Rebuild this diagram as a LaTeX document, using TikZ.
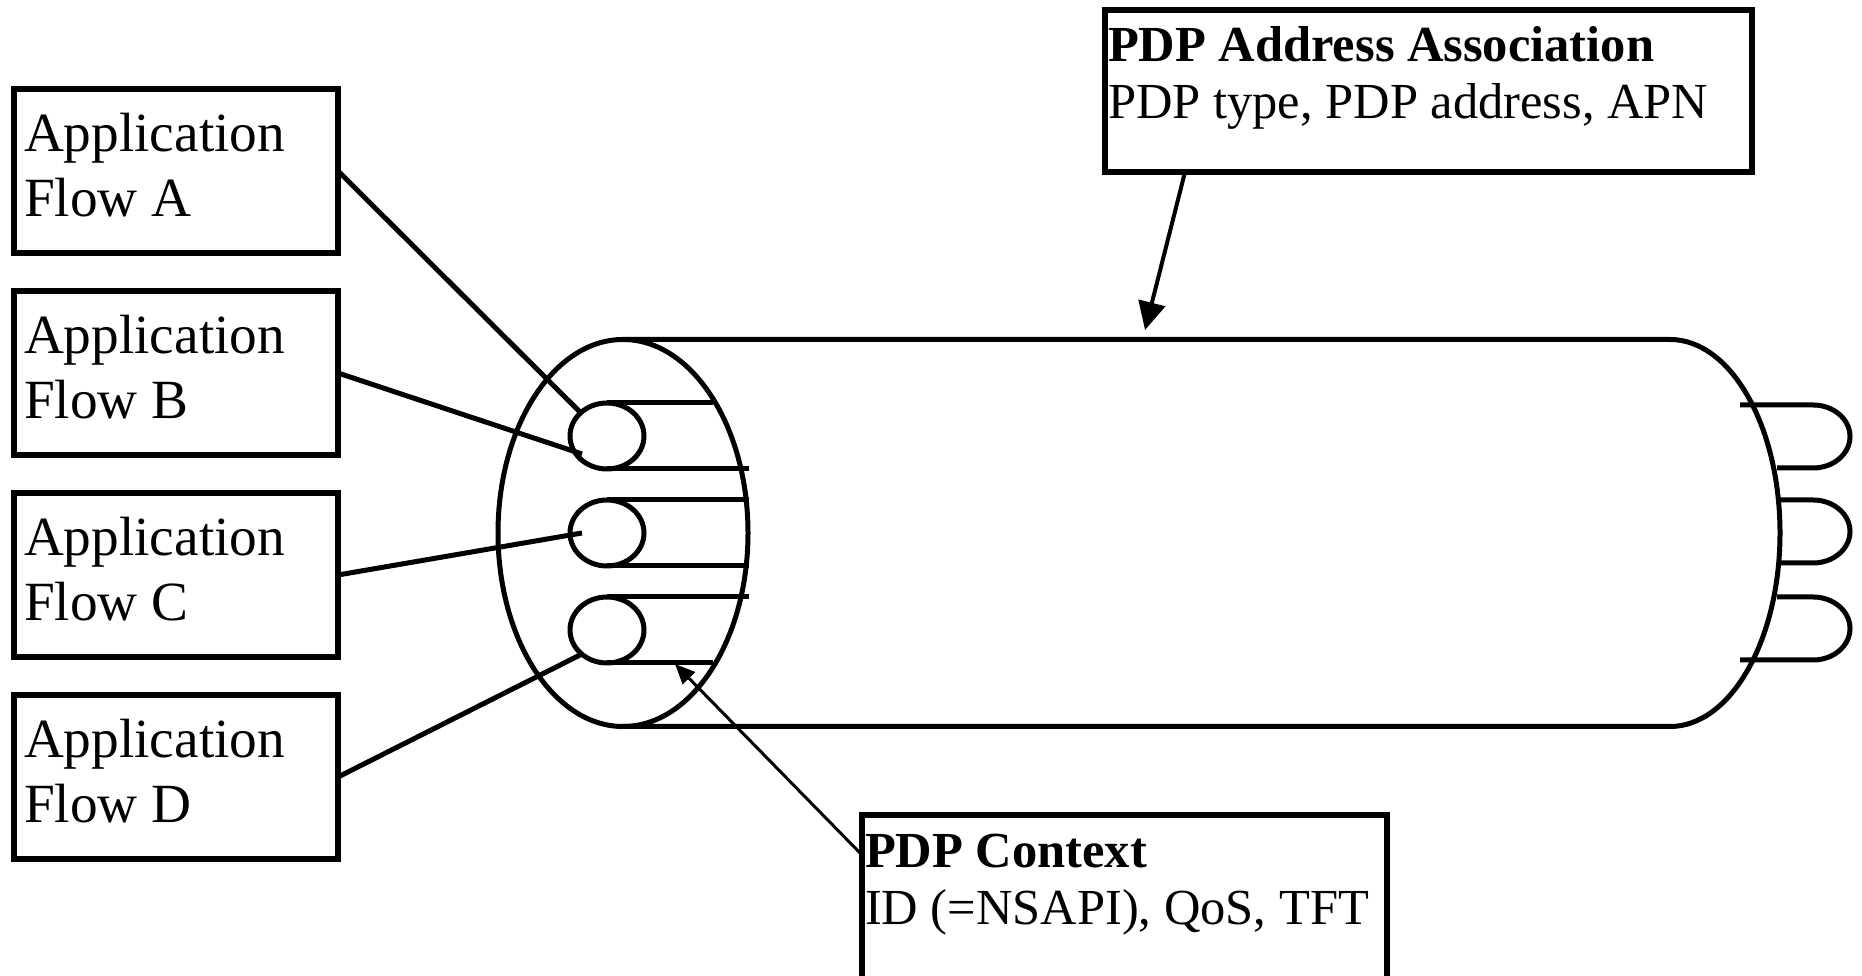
\documentclass[tikz,border=0pt]{standalone}
\usepackage{fontspec}
\setmainfont{Liberation Serif}
\usetikzlibrary{shapes.geometric,arrows.meta,calc}
\begin{document}
\begin{tikzpicture}[x=1pt,y=1pt,
  thickln/.style={line width=5pt},
  box/.style={draw, line width=5.5pt, rectangle, inner sep=0pt, outer sep=0pt, anchor=north west},
  apptext/.style={anchor=base west, inner sep=0pt, outer sep=0pt, font=\fontsize{55.3}{65}\selectfont},
  pdptext/.style={anchor=base west, inner sep=0pt, outer sep=0pt, font=\fontsize{50.5}{58}\selectfont},
  ring/.style={draw, ellipse, line width=5pt, inner sep=0pt, outer sep=0pt, minimum width=74pt, minimum height=66pt},
]
\clip (0,0) rectangle (1862,976);
\useasboundingbox (0,0) rectangle (1862,976);

% application boxes
\node[box, minimum width=324pt, minimum height=164pt] (boxA) at (14,887) {};
\node[apptext] (tA1) at (24,824) {Application};
\node[apptext] (tA2) at (24,759) {Flow A};
\node[box, minimum width=324pt, minimum height=164pt] (boxB) at (14,685) {};
\node[apptext] (tB1) at (24,622) {Application};
\node[apptext] (tB2) at (24,557) {Flow B};
\node[box, minimum width=324pt, minimum height=164pt] (boxC) at (14,483) {};
\node[apptext] (tC1) at (24,420) {Application};
\node[apptext] (tC2) at (24,355) {Flow C};
\node[box, minimum width=324pt, minimum height=164pt] (boxD) at (14,281) {};
\node[apptext] (tD1) at (24,218) {Application};
\node[apptext] (tD2) at (24,153) {Flow D};

% PDP address box
\node[box, minimum width=647pt, minimum height=162pt] (addr) at (1105,966) {};
\node[pdptext] (addr1) at (1108,914) {\textbf{PDP Address Association}};
\node[pdptext] (addr2) at (1108,857) {PDP type, PDP address, APN};

% PDP context box
\node[box, minimum width=525pt, minimum height=200pt] (ctx) at (862,161) {};
\node[pdptext] (ctx1) at (865,108) {\textbf{PDP Context}};
\node[pdptext] (ctx2) at (865,51) {ID (=NSAPI), QoS, TFT};

% cylinder
\node[draw, ellipse, line width=5pt, inner sep=0pt, outer sep=0pt, minimum width=250pt, minimum height=387pt] (endL) at (623,443) {};
\draw[thickln] (endL.north) -- (1670,636.5) arc[start angle=90, end angle=-90, x radius=110pt, y radius=193.5pt] -- (endL.south);

% inner flows (left end)
\node[ring] (c1) at (607,540) {};
\node[ring] (c2) at (607,443) {};
\node[ring] (c3) at (607,346) {};
\draw[thickln] (c1.north) -- ++(106,0);
\draw[thickln] (c1.south) -- ++(142,0);
\draw[thickln] (c2.north) -- ++(142,0);
\draw[thickln] (c2.south) -- ++(142,0);
\draw[thickln] (c3.north) -- ++(142,0);
\draw[thickln] (c3.south) -- ++(106,0);

% inner flows (right end)
\draw[thickln] (1740,571) -- (1813,571) arc[start angle=90, end angle=-90, x radius=37pt, y radius=31.5pt] -- (1777,508);
\draw[thickln] (1777,476) -- (1813,476) arc[start angle=90, end angle=-90, x radius=37pt, y radius=31.5pt] -- (1777,413);
\draw[thickln] (1777,379) -- (1813,379) arc[start angle=90, end angle=-90, x radius=37pt, y radius=31.5pt] -- (1740,316);

% connectors from application boxes
\coordinate (eA) at (581,563);
\coordinate (eB) at (582,522);
\coordinate (eC) at (582,443);
\coordinate (eD) at (580,321);
\draw[thickln] (boxA.east) -- (eA);
\draw[thickln] (boxB.east) -- (eB);
\draw[thickln] (boxC.east) -- (eC);
\draw[thickln] (boxD.east) -- (eD);

% arrows
\coordinate (tipA) at (1145,646);
\coordinate (tipC) at (675,312);
\draw[line width=4pt, -{Triangle[length=28pt,width=27pt]}] ($(addr.south west)+(80,0)$) -- (tipA);
\draw[line width=3pt, -{Triangle[length=20pt,width=17pt]}] ($(ctx.north west)+(0,-40)$) -- (tipC);
\end{tikzpicture}
\end{document}
